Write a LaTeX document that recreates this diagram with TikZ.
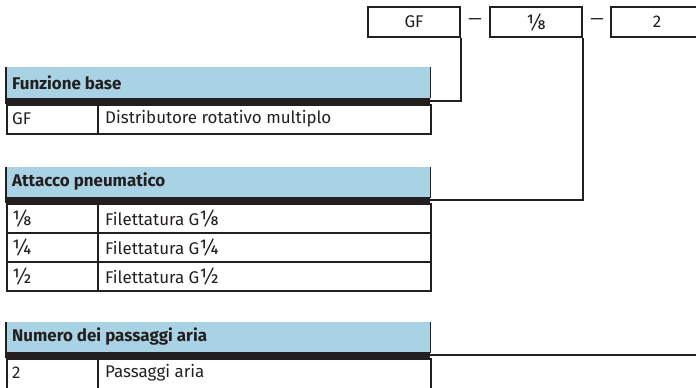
\documentclass[tikz,border=0pt]{standalone}
\usepackage{fontspec}
\setmainfont{Fira Sans}
\definecolor{hdr}{RGB}{169,211,228}
\definecolor{ink}{RGB}{35,31,32}
\newcommand{\frc}[1]{{\fontsize{21}{22}\selectfont #1}}
\tikzset{
  codebox/.style={draw=ink, line width=1.6bp, minimum width=92bp, minimum height=30bp, inner sep=0pt, font=\fontsize{17}{20}\selectfont, text=ink},
  dashtxt/.style={inner sep=0pt, font=\fontsize{17}{20}\selectfont, text=ink},
  hdrbox/.style={fill=hdr, minimum width=424bp, minimum height=31bp, inner sep=0pt, anchor=north west},
  hdrtxt/.style={anchor=west, inner sep=0pt, font=\fontsize{17}{20}\selectfont\bfseries, text=ink},
  bar/.style={fill=ink, minimum width=425bp, minimum height=6bp, inner sep=0pt, anchor=north west},
  keycell/.style={draw=ink, line width=1.6bp, minimum width=91bp, minimum height=29bp, inner sep=0pt, anchor=north west},
  valcell/.style={draw=ink, line width=1.6bp, minimum width=333bp, minimum height=29bp, inner sep=0pt, anchor=north west},
  celltxt/.style={anchor=west, inner sep=0pt, font=\fontsize{17}{20}\selectfont, text=ink},
  conn/.style={draw=ink, line width=1.6bp},
  side/.style={draw=ink, line width=1.6bp}
}
\begin{document}
\begin{tikzpicture}[x=1bp,y=-1bp]
\useasboundingbox (0,0) rectangle (696,387);
\clip (0,0) rectangle (696,387);
% code boxes
\node[codebox] (b1) at (414,22) {GF};
\node[dashtxt] (d1) at (475,22) {—};
\node[codebox] (b2) at (536,22) {\frc{⅛}};
\node[dashtxt] (d2) at (597,22) {—};
\node[codebox] (b3) at (657,22) {2};
% table 1
\node[hdrbox] (h1) at (6,67) {};
\draw[side] (h1.north west) -- (h1.south west) (h1.north east) -- (h1.south east);
\node[hdrtxt] (h1t) at (12,83) {Funzione base};
\node[bar] (bar1) at (5,98) {};
\node[keycell] (k11) at (6,104) {};
\node[valcell] (v11) at (97,104) {};
\node[celltxt] at (12,119) {GF};
\node[celltxt] at (105,119) {Distributore rotativo multiplo};
% table 2
\node[hdrbox] (h2) at (6,167) {};
\draw[side] (h2.north west) -- (h2.south west) (h2.north east) -- (h2.south east);
\node[hdrtxt] (h2t) at (12,182) {Attacco pneumatico};
\node[bar] (bar2) at (5,197) {};
\node[keycell] (k21) at (6,203) {};
\node[valcell] (v21) at (97,203) {};
\node[celltxt] at (12,218) {\frc{⅛}};
\node[celltxt] at (105,218) {Filettatura G\frc{⅛}};
\node[keycell] (k22) at (6,232) {};
\node[valcell] (v22) at (97,232) {};
\node[celltxt] at (12,247) {\frc{¼}};
\node[celltxt] at (105,247) {Filettatura G\frc{¼}};
\node[keycell] (k23) at (6,261) {};
\node[valcell] (v23) at (97,261) {};
\node[celltxt] at (12,276) {\frc{½}};
\node[celltxt] at (105,276) {Filettatura G\frc{½}};
% table 3
\node[hdrbox] (h3) at (6,322) {};
\draw[side] (h3.north west) -- (h3.south west) (h3.north east) -- (h3.south east);
\node[hdrtxt] (h3t) at (12,337) {Numero dei passaggi aria};
\node[bar] (bar3) at (5,352) {};
\node[keycell, minimum height=40bp] (k31) at (6,358) {};
\node[valcell, minimum height=40bp] (v31) at (97,358) {};
\node[celltxt] at (12,373) {2};
\node[celltxt] at (105,373) {Passaggi aria};
% connectors
\draw[conn] (b1.south east) |- (bar1.east);
\draw[conn] (b2.south east) |- (bar2.east);
\draw[conn] (b3.south east) |- (bar3.east);
\end{tikzpicture}
\end{document}
